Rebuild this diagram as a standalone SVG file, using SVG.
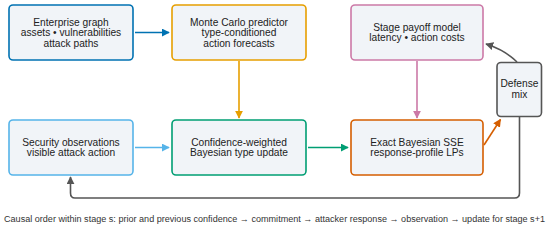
<svg xmlns="http://www.w3.org/2000/svg" width="550" height="227" viewBox="0 0 550 227">
<style>
.box{fill:#f1f4f8;stroke-width:1.6}
.t{font-family:"Liberation Sans",Arial,sans-serif;font-size:10.2px;fill:#222;text-anchor:middle}
.cap{font-family:"Liberation Sans",Arial,sans-serif;font-size:9.05px;fill:#333}
.c{fill:none;stroke-width:1.6}
</style>
<defs>
<marker id="mb" viewBox="0 0 10 10" refX="9" refY="5" markerWidth="5" markerHeight="5" orient="auto"><path d="M0,0 L10,5 L0,10 z" fill="#0072b2"/></marker>
<marker id="mo" viewBox="0 0 10 10" refX="9" refY="5" markerWidth="5" markerHeight="5" orient="auto"><path d="M0,0 L10,5 L0,10 z" fill="#e69f00"/></marker>
<marker id="mp" viewBox="0 0 10 10" refX="9" refY="5" markerWidth="5" markerHeight="5" orient="auto"><path d="M0,0 L10,5 L0,10 z" fill="#cc79a7"/></marker>
<marker id="ml" viewBox="0 0 10 10" refX="9" refY="5" markerWidth="5" markerHeight="5" orient="auto"><path d="M0,0 L10,5 L0,10 z" fill="#56b4e9"/></marker>
<marker id="mg" viewBox="0 0 10 10" refX="9" refY="5" markerWidth="5" markerHeight="5" orient="auto"><path d="M0,0 L10,5 L0,10 z" fill="#009e73"/></marker>
<marker id="mv" viewBox="0 0 10 10" refX="9" refY="5" markerWidth="5" markerHeight="5" orient="auto"><path d="M0,0 L10,5 L0,10 z" fill="#d55e00"/></marker>
<marker id="mk" viewBox="0 0 10 10" refX="9" refY="5" markerWidth="5" markerHeight="5" orient="auto"><path d="M0,0 L10,5 L0,10 z" fill="#555"/></marker>
</defs>
<g id="connectors">
<path class="c" stroke="#0072b2" d="M135 32.5 H169" marker-end="url(#mb)"/>
<path class="c" stroke="#e69f00" d="M239 61 V118" marker-end="url(#mo)"/>
<path class="c" stroke="#cc79a7" d="M417 61 V118" marker-end="url(#mp)"/>
<path class="c" stroke="#56b4e9" d="M135 147.5 H169" marker-end="url(#ml)"/>
<path class="c" stroke="#009e73" d="M308 147.5 H348" marker-end="url(#mg)"/>
<path class="c" stroke="#d55e00" d="M484 145 L500.5 119.5" marker-end="url(#mv)"/>
<path class="c" stroke="#555" d="M517 62 Q505 50 486 44" marker-end="url(#mk)"/>
<path class="c" stroke="#555" d="M519.5 117 V193 Q519.5 198 514.5 198 H75 Q70.5 198 70.5 193 V177" marker-end="url(#mk)"/>
</g>
<g id="n1"><rect class="box" x="9" y="5" width="124" height="55" rx="4" stroke="#0072b2"/>
<text class="t" x="71" y="25.5">Enterprise graph</text><text class="t" x="71" y="36">assets • vulnerabilities</text><text class="t" x="71" y="46.5">attack paths</text></g>
<g id="n2"><rect class="box" x="172" y="5" width="134" height="55" rx="4" stroke="#e69f00"/>
<text class="t" x="239" y="25.5">Monte Carlo predictor</text><text class="t" x="239" y="36">type-conditioned</text><text class="t" x="239" y="46.5">action forecasts</text></g>
<g id="n3"><rect class="box" x="351" y="5" width="132" height="55" rx="4" stroke="#cc79a7"/>
<text class="t" x="417" y="30.5">Stage payoff model</text><text class="t" x="417" y="41">latency • action costs</text></g>
<g id="n4"><rect class="box" x="497" y="62.5" width="44.5" height="54" rx="4" stroke="#555"/>
<text class="t" x="519.5" y="87">Defense</text><text class="t" x="519.5" y="98">mix</text></g>
<g id="n5"><rect class="box" x="9" y="120" width="124" height="55" rx="4" stroke="#56b4e9"/>
<text class="t" x="71" y="145.5">Security observations</text><text class="t" x="71" y="156">visible attack action</text></g>
<g id="n6"><rect class="box" x="172" y="120" width="134" height="55" rx="4" stroke="#009e73"/>
<text class="t" x="239" y="145.5">Confidence-weighted</text><text class="t" x="239" y="156">Bayesian type update</text></g>
<g id="n7"><rect class="box" x="351" y="120" width="132" height="55" rx="4" stroke="#d55e00"/>
<text class="t" x="417" y="145.5">Exact Bayesian SSE</text><text class="t" x="417" y="156">response-profile LPs</text></g>
<text class="cap" x="4" y="222" textLength="541" lengthAdjust="spacingAndGlyphs">Causal order within stage s: prior and previous confidence → commitment → attacker response → observation → update for stage s+1</text>
</svg>
